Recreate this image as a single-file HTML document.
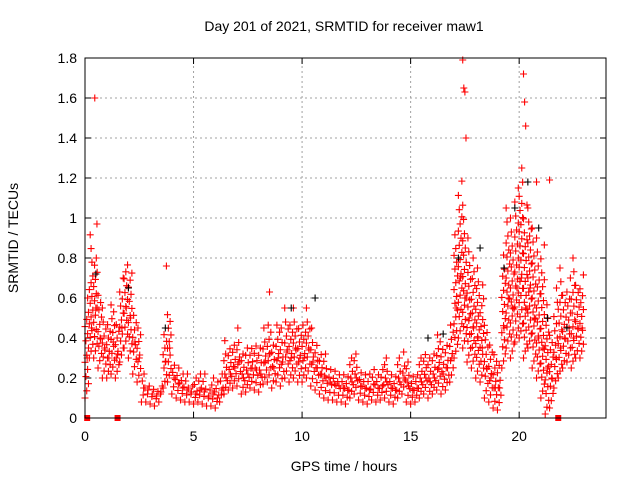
<!DOCTYPE html>
<html><head><meta charset="utf-8"><style>
body{margin:0;background:#fff;}
svg{display:block;font-family:"Liberation Sans",sans-serif;}
</style></head><body>
<svg id="chart" width="640" height="480" viewBox="0 0 640 480">
<rect width="640" height="480" fill="#fff"/>
<text x="344" y="31" font-size="14" text-anchor="middle">Day 201 of 2021, SRMTID for receiver maw1</text>
<text transform="translate(18,238) rotate(-90)" font-size="14" text-anchor="middle">SRMTID / TECUs</text>
<text x="344" y="471" font-size="14" text-anchor="middle">GPS time / hours</text>
<g id="grid"></g>
<g id="ticks"></g>
<g id="marks"></g>
<rect x="85" y="58" width="521" height="360" fill="none" stroke="#000" stroke-width="1"/>
</svg>
<script>
const xTicks=[0,5,10,15,20];
const yTicks=[0,0.2,0.4,0.6,0.8,1,1.2,1.4,1.6,1.8];
const yTickLabels=["0","0.2","0.4","0.6","0.8","1","1.2","1.4","1.6","1.8"];
const midVals=[.30,.45,.55,.40,.35,.30,.38,.32,.45,.55,.50,.38,.30,.15,.14,.12,.11,.13,.28,.35,.20,.17,.15,.14,.13,.12,.14,.13,.11,.12,.10,.14,.20,.22,.25,.28,.20,.22,.25,.24,.22,.28,.32,.25,.30,.28,.33,.30,.35,.30,.30,.35,.28,.25,.22,.20,.18,.17,.16,.15,.14,.18,.20,.16,.15,.14,.17,.15,.16,.18,.15,.14,.18,.20,.16,.14,.15,.18,.20,.18,.20,.25,.22,.25,.30,.55,.70,.60,.50,.45,.40,.35,.25,.20,.15,.15,.45,.60,.55,.65,.70,.55,.65,.50,.40,.35,.25,.20,.30,.35,.40,.45,.40,.45,.45];
const lowVals=[.10,.30,.30,.25,.20,.20,.22,.20,.28,.35,.30,.22,.18,.08,.08,.07,.06,.08,.15,.18,.12,.10,.09,.08,.08,.07,.08,.07,.06,.06,.05,.08,.12,.14,.15,.16,.12,.13,.15,.14,.13,.17,.18,.15,.18,.16,.20,.18,.20,.18,.18,.20,.16,.14,.12,.10,.09,.09,.08,.08,.07,.10,.12,.09,.08,.07,.09,.08,.09,.10,.08,.07,.10,.12,.08,.07,.08,.10,.12,.10,.12,.14,.12,.14,.18,.30,.40,.35,.28,.25,.20,.18,.10,.08,.05,.04,.25,.35,.30,.38,.40,.30,.35,.25,.20,.10,.02,.05,.15,.20,.25,.28,.25,.30,.30];
const highVals=[.60,.95,.80,.65,.55,.50,.60,.50,.70,.80,.76,.55,.45,.22,.20,.18,.17,.20,.45,.55,.30,.25,.22,.22,.20,.20,.22,.22,.18,.20,.18,.22,.42,.38,.40,.45,.32,.35,.38,.36,.35,.45,.50,.40,.50,.45,.55,.50,.55,.48,.50,.55,.45,.40,.35,.32,.28,.27,.25,.25,.24,.30,.32,.26,.25,.22,.28,.25,.28,.30,.25,.24,.30,.33,.28,.24,.25,.30,.35,.30,.32,.45,.38,.40,.50,.95,1.22,1.10,.90,.80,.75,.70,.50,.40,.35,.30,.85,1.05,1.0,1.15,1.25,1.10,1.05,.95,.90,.90,.60,.45,.65,.75,.65,.70,.80,.70,.75];
const outT=[0.45,0.55,3.75,8.5,17.4,17.45,17.5,17.55,20.2,20.25,20.3,20.8,21.4];
const outV=[1.60,0.97,0.76,0.63,1.79,1.65,1.63,1.40,1.72,1.58,1.46,1.18,1.19];
const blackT=[0.5,2.0,3.7,9.5,10.6,15.8,16.5,17.2,18.2,19.3,19.8,20.4,20.9,21.3,22.2];
const blackV=[0.72,0.65,0.45,0.55,0.60,0.40,0.42,0.80,0.85,0.75,1.05,1.18,0.95,0.50,0.45];
const zeroT=[0.1,1.5,21.8];
const NS="http://www.w3.org/2000/svg";
const X0=85,X1=606,XMAX=24,Y0=418,Y1=58,YMAX=1.8;
const xs=v=>X0+(X1-X0)*v/XMAX;
const ys=v=>Y0-(Y0-Y1)*v/YMAX;
const grid=document.getElementById('grid'),ticks=document.getElementById('ticks'),marks=document.getElementById('marks');
function mk(tag,attrs,parent){const e=document.createElementNS(NS,tag);for(const k in attrs)e.setAttribute(k,attrs[k]);parent.appendChild(e);return e;}
yTicks.forEach((v,i)=>{
  const g=mk('line',{x1:X0,x2:X1,y1:ys(v),y2:ys(v),stroke:'#a0a0a0','stroke-dasharray':'2,3'},grid);
  
  
  const t=mk('text',{x:X0-8,y:ys(v)+5,'font-size':14,'text-anchor':'end'},ticks);
  t.textContent=yTickLabels[i];
  
  
  mk('line',{x1:X0,x2:X0+6,y1:ys(v),y2:ys(v),stroke:'#000'},ticks);
  mk('line',{x1:X1,x2:X1-6,y1:ys(v),y2:ys(v),stroke:'#000'},ticks);
});
xTicks.forEach(v=>{
  const g=mk('line',{x1:xs(v),x2:xs(v),y1:Y0,y2:Y1,stroke:'#a0a0a0','stroke-dasharray':'2,3'},grid);
  
  
  const t=mk('text',{x:xs(v),y:Y0+23,'font-size':14,'text-anchor':'middle'},ticks);
  t.textContent=String(v);
  
  
  mk('line',{x1:xs(v),x2:xs(v),y1:Y0,y2:Y0-6,stroke:'#000'},ticks);
  mk('line',{x1:xs(v),x2:xs(v),y1:Y1,y2:Y1+6,stroke:'#000'},ticks);
});
function plus(t,v,color){
  const x=xs(t),y=ys(v);
  const p=mk('path',{d:`M${x-3.5},${y}h7M${x},${y-3.5}v7`,stroke:color,'stroke-width':1.1,fill:'none'},marks);
  
  
}
midVals.forEach((m,i)=>{
  const lo=lowVals[i],hi=highVals[i];
  const n=Math.max(3,Math.round((hi-lo)/0.035));
  for(let k=0;k<=n;k++){
    const v=lo+(hi-lo)*k/n;
    const w=Math.abs(v-m)/(hi-lo+0.001);
    if(w>0.45 && k%2===1) continue;
    plus(i*0.2+((k*7)%5)*0.04,v,'#ff0000');
  }
  plus(i*0.2+0.1,m,'#ff0000');
});
outT.forEach((t,i)=>plus(t,outV[i],'#ff0000'));
blackT.forEach((t,i)=>plus(t,blackV[i],'#000'));
zeroT.forEach(t=>{
  const r=mk('rect',{x:xs(t)-3,y:Y0-3,width:6,height:6,fill:'#ff0000'},marks);
  
  
});
</script>
</body></html>
